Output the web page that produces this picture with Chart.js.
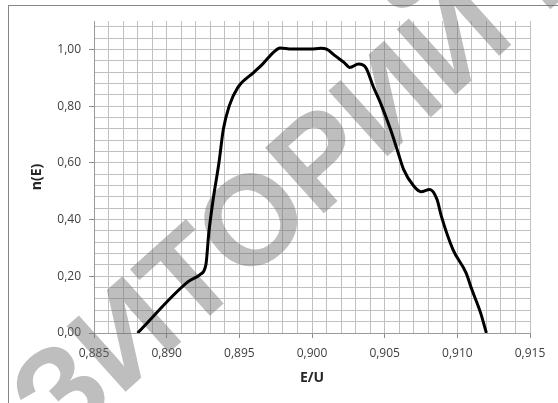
<!DOCTYPE html>
<html>
<head>
<meta charset="utf-8">
<script src="https://cdn.jsdelivr.net/npm/chart.js@4"></script>
<style>
    html, body { margin: 0; padding: 0; background: #fff; }
    #wrap { width: 558px; height: 403px; }
</style>
</head>
<body>
<div id="wrap"><canvas id="chart" width="558" height="403"></canvas></div>
<script>
// Curve (E/U -> n(E))
const xValues = [
    0.8880, 0.8915, 0.8923, 0.8927, 0.8929, 0.8932, 0.8936, 0.8939, 0.8943, 0.8949,
    0.8960, 0.8966, 0.8974, 0.8978, 0.8986, 0.8999, 0.9006, 0.9010, 0.9016, 0.9022,
    0.9026, 0.9032, 0.9037, 0.9042, 0.9048, 0.9054, 0.9059, 0.9063, 0.9070, 0.9075,
    0.9081, 0.9086, 0.9089, 0.9097, 0.9106, 0.9110, 0.9116, 0.9120
];
const yValues = [
    0.000, 0.182, 0.206, 0.241, 0.353, 0.471, 0.601, 0.718, 0.800, 0.866,
    0.919, 0.948, 0.992, 1.005, 1.001, 1.001, 1.004, 1.001, 0.977, 0.954,
    0.936, 0.948, 0.936, 0.871, 0.800, 0.718, 0.640, 0.577, 0.518, 0.498,
    0.506, 0.471, 0.412, 0.294, 0.212, 0.153, 0.071, 0.000
];
const xTickLabels = ['0,885', '0,890', '0,895', '0,900', '0,905', '0,910', '0,915'];
const yTickLabels = ['0,00', '0,20', '0,40', '0,60', '0,80', '1,00'];
const xTitle = 'E/U';
const yTitle = 'n(E)';
const watermarkText = 'РЕПОЗИТОРИЙ БГУИР';

const points = xValues.map((x, i) => ({ x: x, y: yValues[i] }));

// white page plus the outer chart frame
const framePlugin = {
    id: 'frame',
    beforeDraw(chart) {
        const ctx = chart.ctx;
        ctx.save();
        ctx.fillStyle = '#fff';
        ctx.fillRect(0, 0, chart.width, chart.height);
        ctx.strokeStyle = '#868686';
        ctx.lineWidth = 1;
        ctx.strokeRect(8.5, 5.5, 700, 500);
        ctx.restore();
    }
};

// the grey diagonal watermark lying over the grid, anchored on its big "О"
const watermarkPlugin = {
    id: 'watermark',
    beforeDatasetsDraw(chart) {
        const ctx = chart.ctx;
        const size = 128;
        ctx.save();
        ctx.font = 'bold ' + size + 'px "Liberation Sans", sans-serif';
        const pre = ctx.measureText('РЕПОЗИТ').width;
        const ow = ctx.measureText('О').width;
        ctx.translate(252, 216);
        ctx.rotate(-42 * Math.PI / 180);
        ctx.fillStyle = 'rgba(110,110,110,0.45)';
        ctx.textBaseline = 'alphabetic';
        ctx.fillText(watermarkText, -(pre + ow / 2), 0.36 * size);
        ctx.restore();
    }
};

const tickFont = { family: '"Open Sans", sans-serif', size: 12 };

new Chart(document.getElementById('chart'), {
    type: 'scatter',
    data: {
        datasets: [{
            data: points,
            showLine: true,
            borderColor: '#000',
            borderWidth: 3,
            pointRadius: 0,
            cubicInterpolationMode: 'monotone'
        }]
    },
    options: {
        responsive: false,
        animation: false,
        layout: { padding: { left: 0, top: 21, right: 28, bottom: 0 } },
        plugins: {
            legend: { display: false },
            tooltip: { enabled: false }
        },
        scales: {
            x: {
                type: 'linear',
                min: 0.885,
                max: 0.915,
                afterBuildTicks(scale) {
                    const ticks = [];
                    for (let i = 0; i <= 30; i++) {
                        ticks.push({ value: +(0.885 + i * 0.001).toFixed(3) });
                    }
                    scale.ticks = ticks;
                },
                afterFit(scale) { scale.height = 70; },
                grid: {
                    color: '#c0c0c0',
                    tickLength: 5,
                    tickColor: c => c.index % 5 === 0 ? '#8c8c8c' : 'rgba(0,0,0,0)'
                },
                border: { color: '#9a9a9a' },
                ticks: {
                    autoSkip: false,
                    maxRotation: 0,
                    padding: 8,
                    color: '#404040',
                    font: tickFont,
                    callback: (v, i) => i % 5 === 0 ? xTickLabels[i / 5] : ''
                },
                title: {
                    display: true,
                    text: xTitle,
                    color: '#262626',
                    font: { family: '"Open Sans", sans-serif', size: 14, weight: 'bold' },
                    padding: { top: 0, bottom: 16.6 }
                }
            },
            y: {
                type: 'linear',
                min: 0,
                max: 1.1,
                afterBuildTicks(scale) {
                    const ticks = [];
                    for (let i = 0; i <= 27; i++) {
                        ticks.push({ value: +(i * 0.04).toFixed(2) });
                    }
                    scale.ticks = ticks;
                },
                afterFit(scale) { scale.width = 94; },
                grid: {
                    color: '#c0c0c0',
                    tickLength: 5,
                    tickColor: c => c.index % 5 === 0 ? '#8c8c8c' : 'rgba(0,0,0,0)'
                },
                border: { color: '#9a9a9a' },
                ticks: {
                    autoSkip: false,
                    padding: 8,
                    color: '#404040',
                    font: tickFont,
                    callback: (v, i) => i % 5 === 0 ? yTickLabels[i / 5] : ''
                },
                title: {
                    display: true,
                    text: yTitle,
                    color: '#262626',
                    font: { family: '"Open Sans", sans-serif', size: 14, weight: 'bold' },
                    padding: { top: 29, bottom: 0 }
                }
            }
        }
    },
    plugins: [framePlugin, watermarkPlugin]
});
</script>
</body>
</html>
